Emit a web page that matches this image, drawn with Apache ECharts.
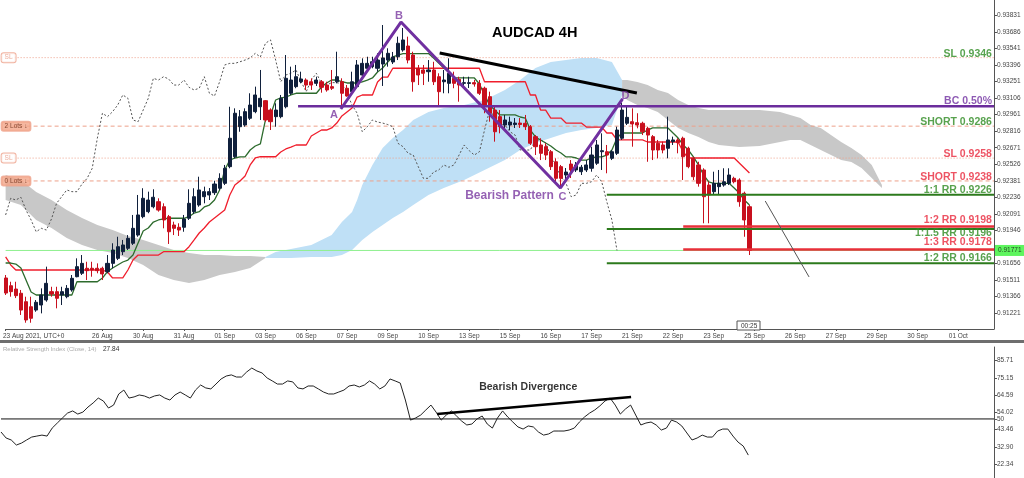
<!DOCTYPE html>
<html><head><meta charset="utf-8">
<script src="https://cdn.jsdelivr.net/npm/echarts@6/dist/echarts.min.js"></script>
<style>html,body{margin:0;padding:0;background:#fff}#c{width:1024px;height:478px}</style>
</head><body><div id="c"></div>
<script>
// ---------------- DATA ----------------
const opens = [0.91530,0.91462,0.91433,0.91396,0.91322,0.91278,0.91249,0.91293,0.91337,0.91410,
0.91410,0.91381,0.91366,0.91425,0.91541,0.91571,0.91615,0.91615,0.91615,0.91615,
0.91585,0.91658,0.91702,0.91760,0.91790,0.91834,0.91906,0.92067,0.92111,0.92154,
0.92198,0.92154,0.92067,0.91994,0.91974,0.91974,0.92053,0.92111,0.92169,0.92242,
0.92257,0.92277,0.92316,0.92359,0.92505,0.92592,0.92855,0.92870,0.92929,0.92987,
0.93030,0.93083,0.93001,0.92943,0.92943,0.93030,0.93148,0.93206,0.93249,0.93264,
0.93249,0.93235,0.93249,0.93220,0.93206,0.93249,0.93249,0.93192,0.93162,0.93206,
0.93308,0.93367,0.93381,0.93367,0.93404,0.93439,0.93422,0.93468,0.93527,0.93562,
0.93483,0.93367,0.93352,0.93337,0.93352,0.93293,0.93249,0.93235,0.93279,0.93270,
0.93235,0.93234,0.93241,0.93235,0.93192,0.93118,0.93001,0.92943,0.92870,0.92870,
0.92874,0.92887,0.92885,0.92855,0.92768,0.92695,0.92680,0.92636,0.92548,0.92505,
0.92432,0.92528,0.92476,0.92461,0.92476,0.92491,0.92535,0.92636,0.92636,0.92578,
0.92622,0.92754,0.92885,0.92899,0.92890,0.92885,0.92841,0.92768,0.92710,0.92695,
0.92666,0.92724,0.92739,0.92754,0.92666,0.92578,0.92520,0.92476,0.92344,0.92286,
0.92330,0.92344,0.92359,0.92403,0.92388,0.92272,0.92154];
const closes = [0.91398,0.91410,0.91375,0.91249,0.91162,0.91177,0.91317,0.91381,0.91483,0.91390,
0.91352,0.91410,0.91439,0.91527,0.91629,0.91658,0.91594,0.91600,0.91594,0.91565,
0.91658,0.91775,0.91804,0.91819,0.91877,0.91965,0.92082,0.92228,0.92213,0.92237,
0.92125,0.92038,0.91935,0.91965,0.91950,0.92047,0.92184,0.92242,0.92301,0.92286,
0.92286,0.92353,0.92403,0.92491,0.92754,0.92973,0.92943,0.92987,0.93045,0.93133,
0.93104,0.92914,0.92899,0.93001,0.93104,0.93279,0.93264,0.93293,0.93273,0.93220,
0.93220,0.93264,0.93200,0.93177,0.93192,0.93293,0.93148,0.93124,0.93249,0.93396,
0.93410,0.93410,0.93424,0.93439,0.93457,0.93498,0.93466,0.93586,0.93615,0.93439,
0.93249,0.93308,0.93323,0.93352,0.93249,0.93162,0.93264,0.93323,0.93235,0.93220,
0.93241,0.93241,0.93229,0.93148,0.93045,0.92973,0.92811,0.92855,0.92914,0.92896,
0.92887,0.92874,0.92855,0.92710,0.92680,0.92622,0.92607,0.92505,0.92403,0.92403,
0.92458,0.92476,0.92520,0.92500,0.92520,0.92607,0.92695,0.92645,0.92607,0.92636,
0.92826,0.93001,0.92937,0.92879,0.92870,0.92811,0.92782,0.92651,0.92651,0.92651,
0.92739,0.92739,0.92715,0.92592,0.92505,0.92417,0.92359,0.92242,0.92257,0.92359,
0.92359,0.92373,0.92432,0.92373,0.92198,0.92038,0.91771];
const lows = [0.91381,0.91366,0.91354,0.91206,0.91138,0.91138,0.91234,0.91220,0.91322,0.91366,
0.91264,0.91293,0.91352,0.91410,0.91536,0.91556,0.91512,0.91541,0.91571,0.91512,
0.91571,0.91615,0.91687,0.91731,0.91775,0.91819,0.91891,0.92053,0.92097,0.92140,
0.92111,0.91965,0.91828,0.91906,0.91898,0.91935,0.92038,0.92090,0.92154,0.92184,
0.92213,0.92257,0.92301,0.92344,0.92491,0.92578,0.92811,0.92855,0.92914,0.92973,
0.92914,0.92899,0.92826,0.92855,0.92929,0.93016,0.93133,0.93192,0.93235,0.93177,
0.93177,0.93212,0.93153,0.93162,0.93177,0.93235,0.93045,0.93118,0.93148,0.93192,
0.93293,0.93352,0.93367,0.93337,0.93212,0.93381,0.93404,0.93439,0.93512,0.93410,
0.93162,0.93220,0.93220,0.93249,0.93220,0.93045,0.93148,0.93148,0.93192,0.93074,
0.93192,0.93194,0.93206,0.93133,0.92973,0.92899,0.92724,0.92797,0.92826,0.92826,
0.92844,0.92844,0.92826,0.92695,0.92607,0.92563,0.92563,0.92476,0.92373,0.92318,
0.92388,0.92406,0.92458,0.92432,0.92458,0.92461,0.92520,0.92476,0.92447,0.92563,
0.92607,0.92739,0.92870,0.92680,0.92841,0.92782,0.92548,0.92563,0.92578,0.92622,
0.92578,0.92695,0.92622,0.92388,0.92491,0.92388,0.92330,0.92009,0.92009,0.92257,
0.92257,0.92330,0.92344,0.92359,0.92154,0.91891,0.91731];
const highs = [0.91556,0.91497,0.91497,0.91425,0.91366,0.91366,0.91337,0.91439,0.91629,0.91453,
0.91453,0.91453,0.91468,0.91556,0.91702,0.91731,0.91672,0.91672,0.91658,0.91629,
0.91731,0.91834,0.91891,0.91863,0.91906,0.92082,0.92257,0.92316,0.92286,0.92307,
0.92228,0.92184,0.92082,0.92023,0.92009,0.92082,0.92307,0.92316,0.92417,0.92330,
0.92318,0.92382,0.92447,0.92520,0.93030,0.93016,0.93001,0.93016,0.93148,0.93206,
0.93352,0.93089,0.93016,0.93060,0.93133,0.93483,0.93381,0.93396,0.93337,0.93279,
0.93279,0.93293,0.93264,0.93249,0.93352,0.93512,0.93279,0.93220,0.93337,0.93439,
0.93454,0.93468,0.93468,0.93498,0.93746,0.93542,0.93510,0.93644,0.93720,0.93644,
0.93512,0.93396,0.93396,0.93439,0.93424,0.93323,0.93352,0.93454,0.93337,0.93293,
0.93293,0.93293,0.93264,0.93264,0.93206,0.93162,0.93030,0.93001,0.92958,0.92943,
0.92931,0.92931,0.92958,0.92870,0.92782,0.92754,0.92710,0.92651,0.92578,0.92520,
0.92493,0.92563,0.92546,0.92520,0.92563,0.92680,0.92739,0.92797,0.92695,0.92651,
0.92855,0.93063,0.93030,0.93016,0.92973,0.92899,0.92855,0.92782,0.92739,0.92724,
0.92943,0.92768,0.92754,0.92768,0.92680,0.92592,0.92548,0.92491,0.92373,0.92461,
0.92476,0.92491,0.92491,0.92417,0.92403,0.92286,0.92169];
const tenkan = [0.91661,0.91661,0.91652,0.91617,0.91512,0.91407,
0.91381,0.91381,0.91381,0.91381,0.91381,0.91381,0.91381,0.91381,
0.91497,0.91497,0.91497,0.91497,0.91497,
0.91530,0.91585,0.91617,0.91644,0.91670,0.91687,0.91731,0.91836,0.91941,0.91968,0.92020,0.92038,0.92047,
0.92053,0.92053,0.92053,0.92053,
0.92067,0.92099,0.92111,0.92152,0.92169,0.92213,0.92301,0.92476,0.92563,0.92581,0.92590,0.92590,0.92651,0.92686,0.92704,0.92914,0.92958,0.93089,0.93107,0.93115,0.93133,
0.93148,0.93148,0.93148,0.93148,0.93148,
0.93203,0.93238,0.93264,0.93264,0.93249,
0.93238,0.93238,0.93238,
0.93247,0.93264,0.93282,0.93334,0.93369,0.93422,0.93466,0.93483,
0.93496,0.93496,0.93496,0.93496,0.93496,0.93496,
0.93457,0.93413,0.93369,0.93334,
0.93282,0.93282,0.93282,0.93282,0.93282,
0.93229,0.93133,0.93045,0.93001,
0.92958,0.92958,0.92958,0.92958,
0.92940,0.92931,0.92826,0.92765,0.92739,0.92712,0.92686,0.92651,0.92625,0.92590,0.92590,0.92581,0.92563,0.92563,0.92581,0.92590,0.92590,0.92607,0.92651,0.92756,
0.92800,0.92800,0.92800,0.92800,0.92800,
0.92826,
0.92844,0.92844,0.92844,0.92844,
0.92800,0.92756,0.92695,0.92651,0.92590,0.92520,0.92432,0.92371,
0.92359,0.92359,0.92359,0.92359,
0.92318,0.92274,0.92213,0.92169];
const kijun = [0.91714,0.91644,
0.91600,0.91600,0.91600,0.91600,0.91600,0.91600,0.91600,0.91600,0.91600,0.91600,0.91600,0.91600,0.91600,0.91600,0.91600,0.91600,0.91600,0.91600,
0.91582,0.91530,0.91530,0.91530,0.91600,0.91687,
0.91731,0.91731,0.91731,0.91731,0.91731,
0.91760,0.91760,0.91760,0.91760,0.91760,
0.91804,0.91863,0.91924,0.91968,0.92020,0.92055,0.92090,0.92125,0.92257,0.92344,0.92379,0.92423,0.92520,0.92581,
0.92592,0.92592,0.92592,0.92592,
0.92634,0.92660,0.92677,
0.92695,0.92695,0.92695,
0.92774,0.92800,0.92826,0.92826,
0.92844,0.92887,0.92949,0.92984,0.93019,0.93115,
0.93133,0.93133,0.93133,0.93247,0.93290,0.93290,
0.93367,0.93367,0.93367,0.93367,0.93367,0.93367,0.93367,0.93367,0.93367,0.93367,0.93367,0.93367,0.93367,0.93367,0.93367,0.93367,0.93367,0.93367,
0.93249,0.93249,0.93249,0.93249,0.93249,0.93249,0.93249,0.93249,0.93249,
0.93133,0.93133,0.93001,0.93001,0.92931,0.92931,0.92931,
0.92887,0.92887,0.92887,0.92887,
0.92852,0.92852,0.92852,0.92852,
0.92800,0.92800,
0.92739,0.92739,0.92739,0.92739,0.92739,0.92739,
0.92721,0.92721,0.92721,0.92721,0.92721,0.92721,0.92721,
0.92634,
0.92581,0.92581,0.92581,0.92581,0.92581,0.92581,0.92581,0.92581,0.92581,0.92581,
0.92537,0.92493,0.92449];
const rsi = [42.0,38.3,37.1,34.0,35.2,37.1,38.9,39.5,40.1,39.5,
44.4,47.5,50.6,53.6,54.9,53.0,54.2,57.3,59.8,62.8,
61.0,56.7,58.5,65.3,67.7,62.8,63.5,64.7,64.1,62.8,
64.1,64.7,62.8,61.6,64.7,66.5,64.7,62.8,67.7,70.8,
69.0,68.4,71.4,74.5,76.3,77.0,75.7,75.7,78.8,81.2,
79.4,78.2,75.1,73.3,71.4,71.4,73.3,72.7,69.0,68.4,
70.2,70.2,68.4,66.5,65.3,65.3,66.5,67.7,70.2,70.8,
69.6,70.8,73.3,71.4,68.4,70.2,74.5,73.3,72.0,61.6,
49.3,50.6,52.4,55.5,58.5,54.2,49.3,52.4,54.9,51.8,
48.7,46.3,46.9,50.0,51.8,46.9,44.4,50.6,54.9,51.2,
48.1,45.1,43.8,45.7,45.1,42.0,40.1,40.8,42.6,42.6,
42.6,43.2,44.4,48.1,51.2,53.6,55.5,58.0,61.0,62.8,
58.5,53.0,56.1,58.5,52.4,46.3,47.5,48.1,46.3,43.2,
44.4,49.3,48.1,45.7,41.4,37.1,38.3,40.1,38.9,38.9,
42.6,43.8,43.8,39.5,35.8,33.4,27.84];
// Ichimoku cloud edges: [bar index, price]
const cloudBearLeftTop = [[0,0.92432],[3,0.92388],[6,0.92283],[9,0.92213],[12,0.92125],[15,0.92055],[18,0.91994],[21,0.91950],[24,0.91898],[27,0.91863],[30,0.91819],[33,0.91775],[36,0.91749],[39,0.91731],[42,0.91731],[45,0.91722],[48,0.91722],[51,0.91714]];
const cloudBearLeftBot = [[0,0.92213],[3,0.92169],[6,0.92038],[9,0.91968],[12,0.91880],[15,0.91819],[18,0.91775],[21,0.91749],[24,0.91705],[27,0.91644],[30,0.91556],[33,0.91512],[36,0.91486],[39,0.91512],[42,0.91556],[45,0.91582],[48,0.91617],[51,0.91705]];
const cloudBullTop = [[51,0.91714],[53,0.91757],[56,0.91784],[60,0.91819],[64,0.91906],[66,0.92020],[68,0.92108],[69,0.92213],[70,0.92344],[72,0.92520],[74,0.92669],[76,0.92756],[78,0.92826],[80,0.92914],[83,0.92984],[86,0.93019],[90,0.93045],[94,0.93089],[98,0.93177],[101,0.93264],[104,0.93369],[107,0.93422],[110,0.93439],[113,0.93457],[116,0.93457],[119,0.93422],[121,0.93264]];
const cloudBullBot = [[51,0.91705],[53,0.91705],[56,0.91705],[60,0.91714],[64,0.91714],[66,0.91731],[68,0.91775],[69,0.91819],[70,0.91863],[72,0.91933],[74,0.91994],[76,0.92055],[78,0.92108],[80,0.92169],[83,0.92257],[86,0.92318],[90,0.92388],[94,0.92476],[98,0.92563],[101,0.92651],[104,0.92712],[107,0.92756],[110,0.92800],[113,0.92826],[116,0.92844],[119,0.92870],[121,0.93133]];
const cloudBearRightTop = [[121,0.93264],[122,0.93264],[124,0.93247],[126,0.93220],[128,0.93177],[130,0.93150],[132,0.93089],[134,0.93045],[136,0.93019],[138,0.93001],[140,0.93001],[144,0.93001],[148,0.93001],[152,0.92984],[154,0.92958],[156,0.92931],[158,0.92870],[160,0.92844],[162,0.92782],[164,0.92721],[166,0.92669],[168,0.92607],[170,0.92520],[172,0.92344]];
const cloudBearRightBot = [[121,0.93133],[122,0.93089],[124,0.93045],[126,0.93019],[128,0.92984],[130,0.92914],[132,0.92844],[134,0.92800],[136,0.92765],[138,0.92721],[140,0.92695],[144,0.92677],[148,0.92686],[152,0.92721],[154,0.92739],[156,0.92739],[158,0.92695],[160,0.92651],[162,0.92607],[164,0.92563],[166,0.92546],[168,0.92493],[170,0.92406],[172,0.92318]];
const chikouShift = 26;
const priceTicks = [0.93831,0.93686,0.93541,0.93396,0.93251,0.93106,0.92961,0.92816,0.92671,0.92526,0.92381,0.92236,0.92091,0.91946,0.91656,0.91511,0.91366,0.91221];
const rsiTicks = [85.71,75.15,64.59,54.02,50,43.46,32.90,22.34];
const dateLabels = ['26 Aug','30 Aug','31 Aug','01 Sep','03 Sep','06 Sep','07 Sep','09 Sep','10 Sep','13 Sep','15 Sep','16 Sep','17 Sep','21 Sep','22 Sep','23 Sep','25 Sep','26 Sep','27 Sep','29 Sep','30 Sep','01 Oct'];
const firstDateLabel = '23 Aug 2021, UTC+0';
const levelTexts = ['SL 0.9346','BC 0.50%','SHORT 0.9286','SL 0.9258','SHORT 0.9238','1:1 RR 0.9226','1:2 RR 0.9198','1:1.5 RR 0.9196','1:3 RR 0.9178','1:2 RR 0.9166'];
const levelPrices = [0.9346,0.93035,0.9286,0.9258,0.9238,0.9226,0.9198,0.9196,0.9178,0.9166];
const tradeTags = ['SL','2 Lots ↓','SL','0 Lots ↓'];
const tradePrices = [0.9346,0.9286,0.9258,0.9238];
const patternPoints = [[65.8,0.93010],[77.6,0.93772],[108.9,0.92318],[121.1,0.93098]];
const patternNames = ['A','B','C','D'];
const lastPrice = 0.91771;
const rsiLast = 27.84;

// ---------------- CHART ----------------
const NCAT = 195;
const categories = Array.from({length: NCAT}, (_, i) => 'bar' + i);
const labelAt = {};
dateLabels.forEach((t, k) => { labelAt[19 + 8 * k] = t; });
const FONT = 'Liberation Sans';
const showIdx = (i) => i === 0 || labelAt[i] !== undefined;

const candleData = opens.map((o, i) => [o, closes[i], lows[i], highs[i]]);
const chikou = closes.slice(chikouShift);

function hline(x0, x1, p, color, width, type, z) {
  return {type: 'line', xAxisIndex: 1, yAxisIndex: 0, data: [[x0, p], [x1, p]], symbol: 'none',
    silent: true, z: z || 3, lineStyle: {color, width, type: type || 'solid'}, animation: false};
}
function seg(pts, color, width, xi, yi, z) {
  return {type: 'line', xAxisIndex: xi, yAxisIndex: yi, data: pts, symbol: 'none', silent: true,
    z: z || 6, lineStyle: {color, width}, animation: false};
}

const levelColor = ['#2e8b22','#7030a0','#2e8b22','#e8283c','#e8283c','#2e8b22','#e8283c','#2e8b22','#e8283c','#2e8b22'];
const levelDy = [-4,-5,-4,-4,-4,-4.5,-6.5,4.5,-7,-5];

const series = [];
series.push({
  type: 'custom', xAxisIndex: 1, yAxisIndex: 0, z: 1, silent: true, animation: false,
  data: [[0, lastPrice]],
  renderItem: (params, api) => {
    const poly = (top, bot, fill) => ({type: 'polygon',
      shape: {points: top.concat(bot.slice().reverse()).map(p => api.coord(p))}, style: {fill}});
    return {type: 'group', children: [
      poly(cloudBearLeftTop, cloudBearLeftBot, '#c8c8c8'),
      poly(cloudBullTop, cloudBullBot, '#bfe0f6'),
      poly(cloudBearRightTop, cloudBearRightBot, '#c8c8c8')]};
  }
});
series.push(hline(0, 194, tradePrices[0], '#eda08a', 1, [1, 2], 2));
series.push(hline(0, 194, tradePrices[1], '#eda08a', 1, [4, 3], 2));
series.push(hline(0, 194, tradePrices[2], '#eda08a', 1, [1, 2], 2));
series.push(hline(0, 194, tradePrices[3], '#eda08a', 1, [4, 3], 2));
series.push(hline(0, 194, lastPrice, '#8ef08e', 1, 'solid', 2));
series.push({type: 'line', xAxisIndex: 0, yAxisIndex: 0, data: chikou, symbol: 'none', silent: true, z: 3,
  lineStyle: {color: '#555', width: 1, type: [2, 2]}, animation: false});
series.push({type: 'line', xAxisIndex: 0, yAxisIndex: 0, data: kijun, symbol: 'none', silent: true, z: 4,
  lineStyle: {color: '#f01e2c', width: 1.3}, animation: false});
series.push({type: 'line', xAxisIndex: 0, yAxisIndex: 0, data: tenkan, symbol: 'none', silent: true, z: 4,
  lineStyle: {color: '#2d6b2d', width: 1.3}, animation: false});
series.push({type: 'candlestick', xAxisIndex: 0, yAxisIndex: 0, data: candleData, barWidth: 3.6, z: 5,
  itemStyle: {color: '#10203c', color0: '#c8101e', borderColor: '#10203c', borderColor0: '#c8101e', borderWidth: 1},
  animation: false});
series.push(hline(57.4, 194, levelPrices[1], '#6b2c9c', 2.5, 'solid', 6));
series.push(hline(118, 194, levelPrices[5], '#2c7a1c', 2, 'solid', 6));
series.push(hline(118, 194, levelPrices[7], '#2c7a1c', 2, 'solid', 6));
series.push(hline(118, 194, levelPrices[9], '#2c7a1c', 2, 'solid', 6));
series.push(hline(133, 194, levelPrices[6], '#e8303a', 2.5, 'solid', 6));
series.push(hline(133, 194, levelPrices[8], '#e8303a', 2.5, 'solid', 6));
series.push(seg(patternPoints, '#7030a0', 3, 1, 0, 7));
series.push(seg([[85.2, 0.93501], [123.9, 0.93150]], '#000', 3, 1, 0, 7));
series.push(seg([[149.1, 0.92204], [157.7, 0.91539]], '#555', 1, 1, 0, 7));
const textData = [];
levelTexts.forEach((t, k) => textData.push({value: [193.6, levelPrices[k]],
  label: {show: true, position: 'left', distance: 0, offset: [0, levelDy[k]], formatter: t,
    color: levelColor[k], fontSize: 10.5, fontWeight: 'bold', fontFamily: FONT}}));
tradeTags.forEach((t, k) => {
  const filled = k % 2 === 1;
  textData.push({value: [0, tradePrices[k]], label: {show: true, position: 'right', distance: 0, offset: [-4, 0], formatter: t,
    fontSize: 6.5, fontFamily: FONT, color: filled ? '#6b2a14' : '#e89a84',
    backgroundColor: filled ? '#f2a588' : '#fff', borderColor: '#eda08a', borderWidth: 1, borderRadius: 2, padding: [1, 3]}});
});
patternNames.forEach((t, k) => {
  const dx = [-7, -2, 2, 3][k], dy = [6, -6, 9, -3][k];
  textData.push({value: patternPoints[k], label: {show: true, position: 'inside', offset: [dx, dy], formatter: t,
    color: '#7a3aa0', fontSize: 11, fontWeight: 'bold', fontFamily: FONT}});
});
textData.push({value: [98.9, 0.92248], label: {show: true, position: 'inside', formatter: 'Bearish Pattern',
  color: '#7a3aa0', fontSize: 12, fontWeight: 'bold', fontFamily: FONT}});
textData.push({value: [194, lastPrice], label: {show: true, position: 'right', distance: 1,
  formatter: lastPrice.toFixed(5), color: '#111', fontSize: 6.5, fontFamily: FONT, backgroundColor: '#36f236', padding: [2, 3]}});
series.push({type: 'scatter', xAxisIndex: 1, yAxisIndex: 0, symbolSize: 0, data: textData, z: 10, silent: true, animation: false});

series.push({type: 'line', xAxisIndex: 3, yAxisIndex: 1, data: [[0, 50], [194, 50]], symbol: 'none', silent: true,
  lineStyle: {color: '#111', width: 1}, animation: false});
series.push({type: 'line', xAxisIndex: 2, yAxisIndex: 1, data: rsi, symbol: 'none', silent: true,
  lineStyle: {color: '#222', width: 1}, animation: false});
series.push(seg([[85.2, 53.0], [123.1, 63.5]], '#000', 2.5, 3, 1, 7));
series.push({type: 'scatter', xAxisIndex: 3, yAxisIndex: 1, symbolSize: 0, silent: true, animation: false,
  data: [{value: [103, 69.6], label: {show: true, position: 'inside', formatter: 'Bearish Divergence',
    color: '#000', fontSize: 10.5, fontWeight: 'bold', fontFamily: FONT}}]});

const chart = echarts.init(document.getElementById('c'));
chart.setOption({
  backgroundColor: '#fff',
  animation: false,
  title: {text: 'AUDCAD 4H', left: 487, top: 20, textStyle: {fontSize: 14.5, fontWeight: 'bold', color: '#000', fontFamily: FONT}},
  grid: [
    {left: 1, right: 30, top: 0, height: 329},
    {left: 1, right: 30, top: 347, bottom: 0}
  ],
  xAxis: [
    {type: 'category', gridIndex: 0, data: categories, boundaryGap: false,
      axisLine: {show: true, onZero: false, lineStyle: {color: '#555'}},
      axisTick: {show: true, length: 2, interval: (i) => showIdx(i), lineStyle: {color: '#555'}},
      axisLabel: {interval: (i) => showIdx(i), margin: 4, fontSize: 6.5, color: '#444', fontFamily: FONT,
        formatter: (v, i) => i === 0 ? '{f|' + firstDateLabel + '}' : (labelAt[i] || ''),
        rich: {f: {fontSize: 6.5, color: '#444', fontFamily: FONT, padding: [0, 0, 0, 56]}}},
      splitLine: {show: false}},
    {type: 'value', gridIndex: 0, min: 0, max: NCAT - 1, show: false, axisLine: {onZero: false}},
    {type: 'category', gridIndex: 1, data: categories, boundaryGap: false, show: false, axisLine: {onZero: false}},
    {type: 'value', gridIndex: 1, min: 0, max: NCAT - 1, show: false, axisLine: {onZero: false}}
  ],
  yAxis: [
    {type: 'value', gridIndex: 0, position: 'right', min: 0.91083, max: 0.93965,
      axisLine: {show: true, onZero: false, lineStyle: {color: '#555'}},
      axisTick: {show: true, length: 3, customValues: priceTicks, lineStyle: {color: '#555'}},
      axisLabel: {customValues: priceTicks, formatter: (v) => v.toFixed(5), fontSize: 6.5, color: '#444', margin: 3, fontFamily: FONT},
      splitLine: {show: false}},
    {type: 'value', gridIndex: 1, position: 'right', min: 13.8, max: 94.1,
      axisLine: {show: true, onZero: false, lineStyle: {color: '#555'}},
      axisTick: {show: true, length: 3, customValues: rsiTicks, lineStyle: {color: '#555'}},
      axisLabel: {customValues: rsiTicks, formatter: (v) => v === 50 ? '50' : v.toFixed(2), fontSize: 6.5, color: '#444', margin: 3, fontFamily: FONT},
      splitLine: {show: false}}
  ],
  graphic: [
    {type: 'rect', shape: {x: 0, y: 340, width: 1024, height: 3}, style: {fill: '#6e6e6e'}, silent: true},
    {type: 'text', x: 3, y: 346, style: {text: 'Relative Strength Index (Close, 14) ', fill: '#aaa', fontSize: 6, fontFamily: FONT}, silent: true},
    {type: 'text', x: 103, y: 346, style: {text: rsiLast.toFixed(2), fill: '#333', fontSize: 6.5, fontFamily: FONT}, silent: true},
    {type: 'rect', shape: {x: 737, y: 321, width: 23, height: 9}, style: {fill: '#fff', stroke: '#555', lineWidth: 1}, z: 20, silent: true},
    {type: 'text', x: 741, y: 322.5, style: {text: '00:25', fill: '#333', fontSize: 6.5, fontFamily: FONT}, z: 21, silent: true}
  ],
  series
});
</script></body></html>
